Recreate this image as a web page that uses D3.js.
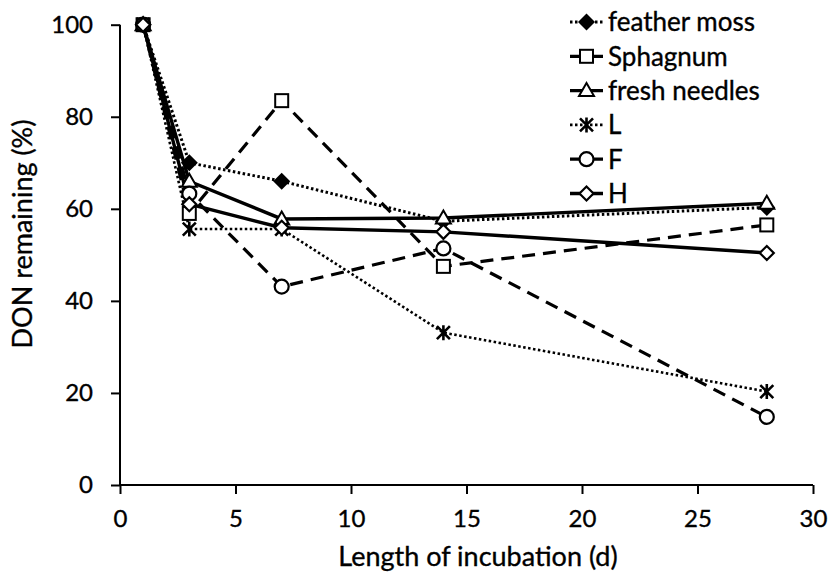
<!DOCTYPE html>
<html>
<head>
<meta charset="utf-8">
<script src="https://cdn.jsdelivr.net/npm/d3@7"></script>
<style>
  html, body { margin: 0; padding: 0; background: #fff; }
  svg { display: block; }
  text { font-family: Lato, "Open Sans", sans-serif; fill: #000; stroke: #000; stroke-width: 0.35px; }
</style>
</head>
<body>
<svg id="chart" width="830" height="587"></svg>
<script>
// Incubation days at which DON was measured
const days = [1, 3, 7, 14, 28];

// DON remaining (%) per substrate
const featherMoss   = [100, 70.0, 66.0, 57.3, 60.3];
const sphagnum      = [100, 59.0, 83.5, 47.5, 56.5];
const freshNeedles  = [100, 66.0, 57.8, 58.0, 61.2];
const litterL       = [100, 55.6, 55.6, 33.1, 20.3];
const fermentF      = [100, 63.3, 43.1, 51.4, 14.8];
const humusH        = [100, 61.0, 55.9, 55.0, 50.4];

const seriesNames = ["feather moss", "Sphagnum", "fresh needles", "L", "F", "H"];
const xTicks = [0, 5, 10, 15, 20, 25, 30];
const yTicks = [0, 20, 40, 60, 80, 100];

const DOT = "2.5,2.5", DASH = "13,8";
const series = [
  { name: seriesNames[0], values: featherMoss,  dash: DOT,  width: 3,   marker: "diamondFilled" },
  { name: seriesNames[1], values: sphagnum,     dash: DASH, width: 3.2, marker: "square" },
  { name: seriesNames[2], values: freshNeedles, dash: null, width: 3.4, marker: "triangle" },
  { name: seriesNames[3], values: litterL,      dash: DOT,  width: 2.6, marker: "asterisk" },
  { name: seriesNames[4], values: fermentF,     dash: DASH, width: 3.2, marker: "circle" },
  { name: seriesNames[5], values: humusH,       dash: null, width: 3.4, marker: "diamond" }
];

const svg = d3.select("#chart");
const x = d3.scaleLinear().domain([0, 30]).range([120, 813]);
const y = d3.scaleLinear().domain([0, 100]).range([485, 24.7]);

// Axes
const xAxis = d3.axisBottom(x).tickValues(xTicks).tickSize(9).tickPadding(16);
const yAxis = d3.axisLeft(y).tickValues(yTicks).tickSize(9).tickPadding(18);

const gx = svg.append("g").attr("transform", `translate(0,${y(0)})`).call(xAxis);
const gy = svg.append("g").attr("transform", `translate(${x(0)},0)`).call(yAxis);
[gx, gy].forEach(g => {
  g.select(".domain").attr("stroke", "#000").attr("stroke-width", 2);
  g.selectAll(".tick line").attr("stroke", "#000").attr("stroke-width", 2);
  g.selectAll(".tick text").attr("font-size", 24).attr("font-family", "Lato, sans-serif");
});
gx.select(".domain").attr("d", `M${x(0)},0H${x(30)}`);
gy.select(".domain").attr("d", `M0,${y(0)}V${y(100)}`);

// Axis titles
svg.append("text")
  .attr("x", 478).attr("y", 566)
  .attr("text-anchor", "middle").attr("font-size", 27)
  .text("Length of incubation (d)");
svg.append("text")
  .attr("transform", `translate(32,234) rotate(-90)`)
  .attr("text-anchor", "middle").attr("font-size", 27)
  .text("DON remaining (%)");

// Marker shapes
function drawMarker(g, type, cx, cy) {
  const s = g.append("g").attr("transform", `translate(${cx},${cy})`);
  switch (type) {
    case "diamondFilled":
      s.append("path").attr("d", "M0,-8.5L8.5,0L0,8.5L-8.5,0Z").attr("fill", "#000");
      break;
    case "diamond":
      s.append("path").attr("d", "M0,-7L7,0L0,7L-7,0Z")
        .attr("fill", "#fff").attr("stroke", "#000").attr("stroke-width", 2.2);
      break;
    case "square":
      s.append("rect").attr("x", -6.5).attr("y", -6.5).attr("width", 13).attr("height", 13)
        .attr("fill", "#fff").attr("stroke", "#000").attr("stroke-width", 2);
      break;
    case "triangle":
      s.append("path").attr("d", "M0,-7.5L7.5,5.5L-7.5,5.5Z")
        .attr("fill", "#fff").attr("stroke", "#000").attr("stroke-width", 2);
      break;
    case "circle":
      s.append("circle").attr("r", 7)
        .attr("fill", "#fff").attr("stroke", "#000").attr("stroke-width", 2.2);
      break;
    case "asterisk":
      s.append("path").attr("d", "M-6.5,-6.5L6.5,6.5M-6.5,6.5L6.5,-6.5M0,-7.5V7.5")
        .attr("stroke", "#000").attr("stroke-width", 2.6).attr("fill", "none");
      break;
  }
}

const line = d3.line().x(d => x(d[0])).y(d => y(d[1]));
const plot = svg.append("g");

// Lines first, markers on top
series.forEach(s => {
  const pts = days.map((d, i) => [d, s.values[i]]);
  plot.append("path")
    .datum(pts)
    .attr("d", line)
    .attr("fill", "none")
    .attr("stroke", "#000")
    .attr("stroke-width", s.width)
    .attr("stroke-dasharray", s.dash);
});
series.forEach(s => {
  days.forEach((d, i) => drawMarker(plot, s.marker, x(d), y(s.values[i])));
});

// Legend
const legend = svg.append("g");
series.forEach((s, i) => {
  const ly = 22 + i * 34.3;
  legend.append("line")
    .attr("x1", 570).attr("x2", 603).attr("y1", ly).attr("y2", ly)
    .attr("stroke", "#000").attr("stroke-width", s.width)
    .attr("stroke-dasharray", s.dash === DOT ? DOT : null);
  drawMarker(legend, s.marker, 586.5, ly);
  legend.append("text")
    .attr("x", 608).attr("y", ly).attr("dy", "0.36em")
    .attr("font-size", 26)
    .text(s.name);
});
</script>
</body>
</html>
